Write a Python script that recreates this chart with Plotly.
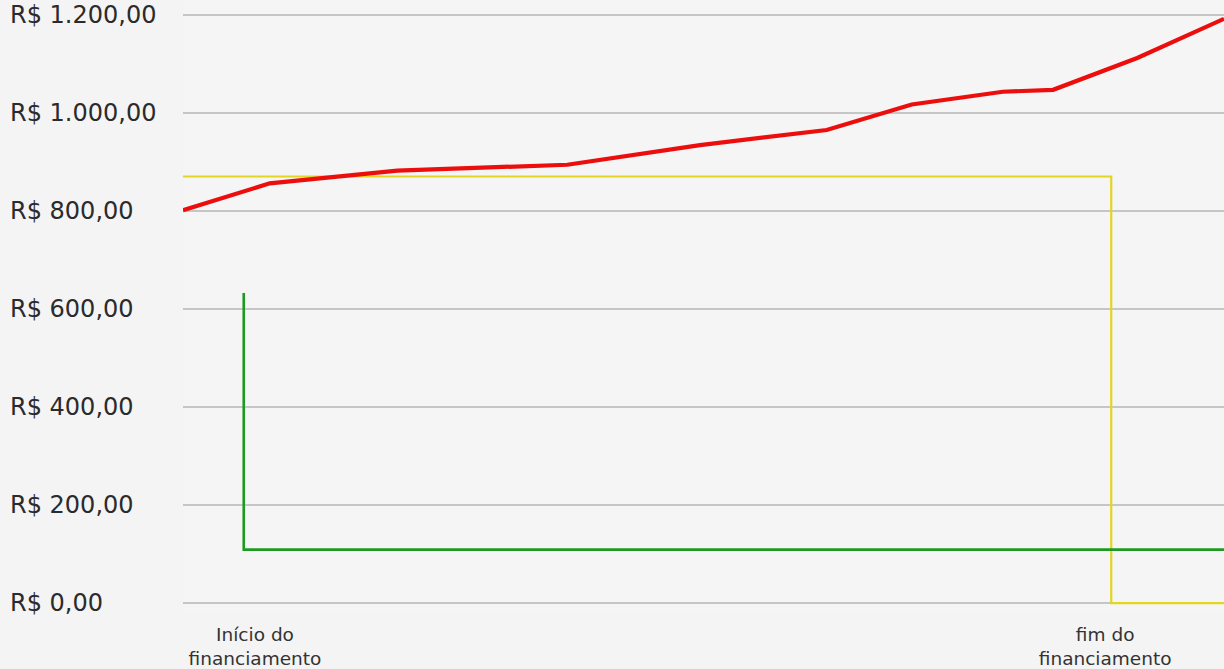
import plotly.graph_objects as go

# ---- data (x in months of the period) ----
red_x = [0, 10, 24.7, 44.3, 59.6, 74.2, 84, 94.5, 100.3, 110, 120]
red_y = [802, 857, 883, 895, 935, 966, 1018, 1044, 1048, 1113, 1193]

yellow_x = [0, 107, 107, 120]
yellow_y = [871, 871, 0, 0]

green_x = [7, 7, 120]
green_y = [633, 109, 109]

y_ticks = [0, 200, 400, 600, 800, 1000, 1200]
y_labels = ["R$ 0,00", "R$ 200,00", "R$ 400,00", "R$ 600,00",
            "R$ 800,00", "R$ 1.000,00", "R$ 1.200,00"]
x_ticks = [8.3, 106.3]
x_labels = ["Início do<br>financiamento", "fim do<br>financiamento"]

FONT = "DejaVu Sans"

fig = go.Figure()
fig.add_trace(go.Scatter(x=yellow_x, y=yellow_y, mode="lines",
                         line=dict(color="#e3d523", width=2.2), hoverinfo="skip"))
fig.add_trace(go.Scatter(x=green_x, y=green_y, mode="lines",
                         line=dict(color="#1e9a22", width=2.6), hoverinfo="skip"))
fig.add_trace(go.Scatter(x=red_x, y=red_y, mode="lines",
                         line=dict(color="#ec0d0d", width=4.2), hoverinfo="skip"))

for v, t in zip(y_ticks, y_labels):
    fig.add_annotation(x=-0.168, xref="paper", y=v, yref="y", text=t,
                       showarrow=False, xanchor="left", yanchor="middle",
                       font=dict(family=FONT, size=24, color="#2b2b2b"))

fig.update_layout(
    width=1224, height=669,
    margin=dict(l=183, r=0, t=0, b=54),
    paper_bgcolor="#f4f4f4", plot_bgcolor="#f5f5f5",
    showlegend=False,
    xaxis=dict(range=[0, 120], showgrid=False, zeroline=False, showline=False,
               tickmode="array", tickvals=x_ticks, ticktext=x_labels,
               ticks="", ticklabelstandoff=8,
               tickfont=dict(family=FONT, size=18.5, color="#333333")),
    yaxis=dict(range=[-20.35, 1231.4], tickmode="array", tickvals=y_ticks,
               showticklabels=False, showgrid=True, gridcolor="#c6c6c6",
               gridwidth=2, zeroline=False, showline=False),
)

fig.write_html("out.html", config={"displayModeBar": False},
               post_script="document.body.style.margin='0';"
                           "document.body.style.overflow='hidden';"
                           "document.body.style.background='#f4f4f4';")
